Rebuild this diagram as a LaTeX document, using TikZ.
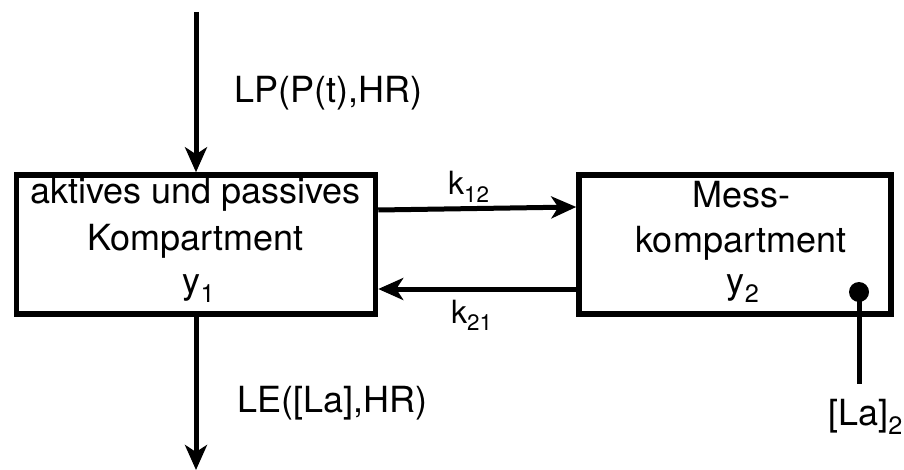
\documentclass[tikz,border=0pt]{standalone}
\usepackage{fontspec}
\setmainfont{TeX Gyre Heros}
\usetikzlibrary{arrows.meta}
\begin{document}
\begin{tikzpicture}[x=1pt,y=-1pt,
  compbox/.style={draw,line width=5.5pt,inner sep=0pt},
  boxtxt/.style={inner sep=0pt,anchor=base,font=\fontsize{36}{44}\selectfont},
  flow/.style={line width=5pt,-{Stealth[length=25pt,width=22pt,inset=7pt]}},
  lbl/.style={inner sep=0pt,anchor=base west,font=\fontsize{36}{44}\selectfont},
  klbl/.style={inner sep=0pt,anchor=base west,font=\fontsize{32}{38}\selectfont}]
\useasboundingbox (0,0) rectangle (904,470);
\node[compbox,minimum width=359pt,minimum height=139pt] (b1) at (196,244.5) {};
\node[compbox,minimum width=312pt,minimum height=139pt] (b2) at (735,244.5) {};
\node[boxtxt] (t1a) at (195.5,204) {aktives und passives};
\node[boxtxt] (t1b) at (195.5,251) {Kompartment};
\node[boxtxt] (t1c) at (199,293) {y\textsubscript{1}};
\node[boxtxt] (t2a) at (741,208) {Mess-};
\node[boxtxt] (t2b) at (741,252) {kompartment};
\node[boxtxt] (t2c) at (743,293) {y\textsubscript{2}};
\coordinate (src) at (196,12);
\coordinate (sink) at (196,470);
\draw[flow] (src) -- (b1.north);
\draw[flow] (b1.south) -- (sink);
\draw[flow] ([yshift=34.5pt]b1.east) -- ([yshift=37.5pt]b2.west);
\draw[flow] ([yshift=-44.5pt]b2.west) -- ([yshift=-44.5pt]b1.east);
\node[klbl] (k12) at (448,195) {k\textsubscript{12}};
\node[klbl] (k21) at (451,323) {k\textsubscript{21}};
\node[lbl] (lp) at (234,103) {LP(P(t),HR)};
\node[lbl] (le) at (237,412) {LE([La],HR)};
\node[circle,fill,inner sep=0pt,minimum size=20pt] (dot) at (859,292) {};
\coordinate (meas) at (859,384);
\draw[line width=5pt] (dot.center) -- (meas);
\node[lbl] (la) at (828,425) {[La]\textsubscript{2}};
\end{tikzpicture}
\end{document}
